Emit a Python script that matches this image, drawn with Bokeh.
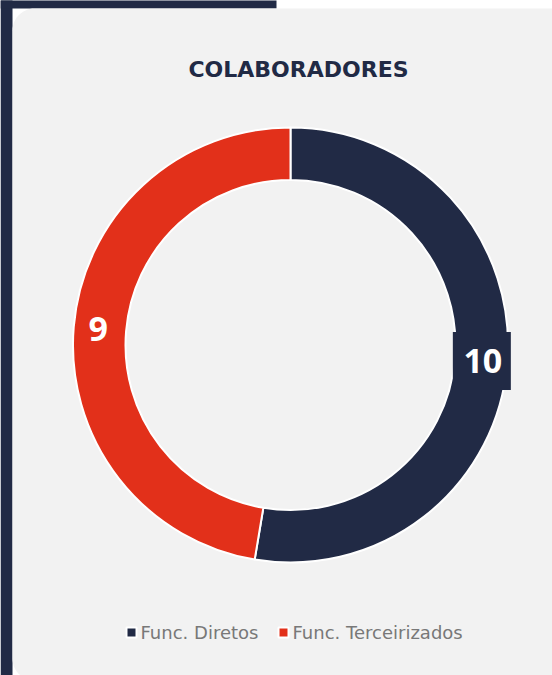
import numpy as np
from bokeh.plotting import figure
from bokeh.models import Range1d, BoxAnnotation, ColumnDataSource
from bokeh.core.properties import value
from bokeh.embed import file_html
from bokeh.resources import INLINE

# ---- data ----
categories = ["Func. Diretos", "Func. Terceirizados"]
counts = [10, 9]
colors = ["#212A45", "#E2301A"]
title_text = "COLABORADORES"

W, H = 552, 675
NAVY = "#212A45"
CARD = "#F2F2F2"

p = figure(width=W, height=H, output_backend="svg", toolbar_location=None,
           x_range=Range1d(0, W), y_range=Range1d(0, H), min_border=0)
p.axis.visible = False
p.grid.visible = False
p.outline_line_color = None
p.background_fill_color = "white"
p.border_fill_color = "white"

def Y(y):
    return H - y

# page decoration
p.add_layout(BoxAnnotation(left=0, right=12, bottom=-10, top=H + 10, level="underlay",
                           fill_color=NAVY, fill_alpha=1, line_color=None))
p.add_layout(BoxAnnotation(left=0, right=276, bottom=Y(8), top=H + 10, level="underlay",
                           fill_color=NAVY, fill_alpha=1, line_color=None))

# rounded card as a patch
def rounded_rect(l, r, t, b, rad, n=16):
    xs, ys = [], []
    corners = [(r - rad, t - rad, 0), (l + rad, t - rad, 90), (l + rad, b + rad, 180), (r - rad, b + rad, 270)]
    for (ccx, ccy, a0) in corners:
        for a in np.linspace(np.radians(a0), np.radians(a0 + 90), n):
            xs.append(ccx + rad * np.cos(a))
            ys.append(ccy + rad * np.sin(a))
    return xs, ys

cxs, cys = rounded_rect(12, W + 40, Y(8), Y(680), 22)
p.patch(cxs, cys, fill_color=CARD, line_color=None)

# donut from data
cx, cy = 290, Y(344.5)
r_out, r_in = 217.5, 165
total = sum(counts)
cum = np.concatenate([[0], np.cumsum(counts)])
starts = np.pi / 2 - cum[:-1] / total * 2 * np.pi
ends = np.pi / 2 - cum[1:] / total * 2 * np.pi
mids = (starts + ends) / 2
src = ColumnDataSource(dict(start=starts, end=ends, color=colors, cat=categories,
                            lx=cx + 193 * np.cos(mids), ly=cy + 193 * np.sin(mids),
                            txt=[str(c) for c in counts]))
p.annular_wedge(x=cx, y=cy, inner_radius=r_in, outer_radius=r_out,
                start_angle="start", end_angle="end", direction="clock",
                fill_color="color", line_color="white", line_width=2, source=src)

# data labels (first one has a navy label box)
lab0 = ColumnDataSource(dict(x=[src.data["lx"][0] - 1], y=[src.data["ly"][0]]))
p.rect(x="x", y="y", width=58, height=58, fill_color=colors[0], line_color=None, source=lab0)
p.text(x="lx", y="ly", text="txt", source=src, text_color="white",
       text_font=value("Open Sans"), text_font_style="bold", text_font_size="34px",
       text_align="center", text_baseline="middle")

# title
p.text(x=[298], y=[Y(69)], text=[title_text], text_color=NAVY,
       text_font=value("DejaVu Sans"), text_font_style="bold", text_font_size="22px",
       text_align="center", text_baseline="middle")

# legend
leg_sq_x = [131, 283]
leg_tx_x = [140, 292]
ly = Y(632)
p.scatter(x=leg_sq_x, y=[ly] * 2, marker="square", size=10, fill_color=colors,
          line_color="white", line_width=2)
p.text(x=leg_tx_x, y=[ly] * 2, text=categories, text_color="#787878",
       text_font=value("DejaVu Sans"), text_font_size="18px",
       text_align="left", text_baseline="middle")

open("out.html", "w").write(file_html(p, INLINE))
